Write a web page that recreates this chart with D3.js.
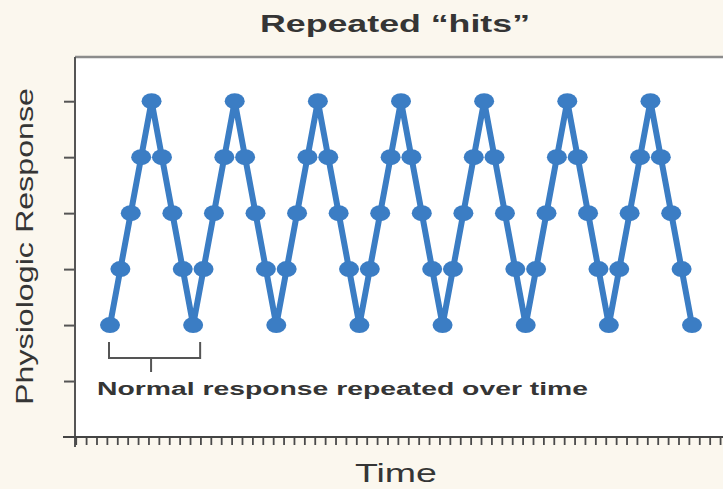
<!DOCTYPE html>
<html>
<head>
<meta charset="utf-8">
<script src="https://cdn.jsdelivr.net/npm/d3@7"></script>
<style>
  html, body { margin: 0; padding: 0; background: #fbf7ee; }
  svg { display: block; }
</style>
</head>
<body>
<div id="chart"></div>
<script>
// ---- data ----
const chartTitle = "Repeated \u201Chits\u201D";
const xAxisLabel = "Time";
const yAxisLabel = "Physiologic Response";
const annotationText = "Normal response repeated over time";
// physiologic response level at each time step (7 repeated hits)
const responseValues = [
  1, 2, 3, 4, 5, 4, 3, 2,
  1, 2, 3, 4, 5, 4, 3, 2,
  1, 2, 3, 4, 5, 4, 3, 2,
  1, 2, 3, 4, 5, 4, 3, 2,
  1, 2, 3, 4, 5, 4, 3, 2,
  1, 2, 3, 4, 5, 4, 3, 2,
  1, 2, 3, 4, 5, 4, 3, 2,
  1
];
const yTickValues = [0, 1, 2, 3, 4, 5];
// one normal response spans these time steps
const normalResponseSpan = [0, 8];

// ---- layout ----
const W = 723, H = 489;
const plot = { left: 75, right: 723, top: 57, bottom: 437 };
const blue = "#3b7dc4";
const ink = "#353535";

const svg = d3.select("#chart").append("svg")
  .attr("width", W).attr("height", H);

svg.append("rect").attr("width", W).attr("height", H).attr("fill", "#fbf7ee");

const x = d3.scaleLinear().domain([0, responseValues.length - 1]).range([110, 692]);
const y = d3.scaleLinear().domain([-1, 5.79]).range([plot.bottom, plot.top]);

// plot area
svg.append("rect")
  .attr("x", plot.left).attr("y", plot.top)
  .attr("width", plot.right - plot.left).attr("height", plot.bottom - plot.top)
  .attr("fill", "#ffffff");
svg.append("line")
  .attr("x1", plot.left).attr("x2", plot.right)
  .attr("y1", plot.top).attr("y2", plot.top)
  .attr("stroke", "#8c8c8c").attr("stroke-width", 2.5);

// y axis
const yAxis = d3.axisLeft(y).tickValues(yTickValues).tickSize(11).tickFormat("");
const gy = svg.append("g").attr("transform", `translate(${plot.left},0)`).call(yAxis);
gy.select(".domain").remove();
gy.selectAll(".tick line").attr("stroke", "#555").attr("stroke-width", 2);
svg.append("line")
  .attr("x1", plot.left).attr("x2", plot.left)
  .attr("y1", plot.top).attr("y2", plot.bottom + 10)
  .attr("stroke", "#555").attr("stroke-width", 2);

// x axis with dense minor ticks
const xTicks = d3.range(-3.3, 59.2, 1);
const xAxis = d3.axisBottom(x).tickValues(xTicks).tickSize(8).tickFormat("");
const gx = svg.append("g").attr("transform", `translate(0,${plot.bottom})`).call(xAxis);
gx.select(".domain").remove();
gx.selectAll(".tick line").attr("stroke", "#4a4a4a").attr("stroke-width", 1.8);
svg.append("line")
  .attr("x1", plot.left - 12).attr("x2", W)
  .attr("y1", plot.bottom).attr("y2", plot.bottom)
  .attr("stroke", "#444").attr("stroke-width", 2);

// series
const line = d3.line().x((d, i) => x(i)).y(d => y(d));
svg.append("path")
  .datum(responseValues)
  .attr("d", line)
  .attr("fill", "none")
  .attr("stroke", blue)
  .attr("stroke-width", 6)
  .attr("stroke-linejoin", "round");
svg.append("g").selectAll("ellipse")
  .data(responseValues)
  .join("ellipse")
  .attr("cx", (d, i) => x(i))
  .attr("cy", d => y(d))
  .attr("rx", 10)
  .attr("ry", 8)
  .attr("fill", blue);

// bracket annotation
const bx0 = x(normalResponseSpan[0]) - 1;
const bx1 = x(normalResponseSpan[1]) + 7;
const bTop = y(1) + 17, bBot = y(1) + 33;
const bMid = x((normalResponseSpan[0] + normalResponseSpan[1]) / 2) - 0.5;
svg.append("path")
  .attr("d", `M${bx0},${bTop}V${bBot}H${bx1}V${bTop}M${bMid},${bBot}V${bBot + 14}`)
  .attr("fill", "none").attr("stroke", "#555").attr("stroke-width", 2);

svg.append("text")
  .attr("x", 97).attr("y", 395)
  .attr("font-family", "'Liberation Sans', Arial, sans-serif")
  .attr("font-weight", "bold").attr("font-size", 18)
  .attr("fill", ink)
  .attr("textLength", 491).attr("lengthAdjust", "spacingAndGlyphs")
  .text(annotationText);

// title
svg.append("text")
  .attr("x", 260).attr("y", 32)
  .attr("font-family", "'Liberation Sans', Arial, sans-serif")
  .attr("font-weight", "bold").attr("font-size", 24)
  .attr("fill", ink)
  .attr("textLength", 270).attr("lengthAdjust", "spacingAndGlyphs")
  .text(chartTitle);

// axis titles
svg.append("text")
  .attr("x", 355).attr("y", 482)
  .attr("font-family", "'Liberation Sans', Arial, sans-serif")
  .attr("font-size", 25)
  .attr("fill", ink)
  .attr("textLength", 82).attr("lengthAdjust", "spacingAndGlyphs")
  .text(xAxisLabel);

svg.append("text")
  .attr("transform", `translate(33,405) rotate(-90)`)
  .attr("x", 0).attr("y", 0)
  .attr("font-family", "'Liberation Sans', Arial, sans-serif")
  .attr("font-size", 24)
  .attr("fill", ink)
  .attr("textLength", 317).attr("lengthAdjust", "spacingAndGlyphs")
  .text(yAxisLabel);
</script>
</body>
</html>
